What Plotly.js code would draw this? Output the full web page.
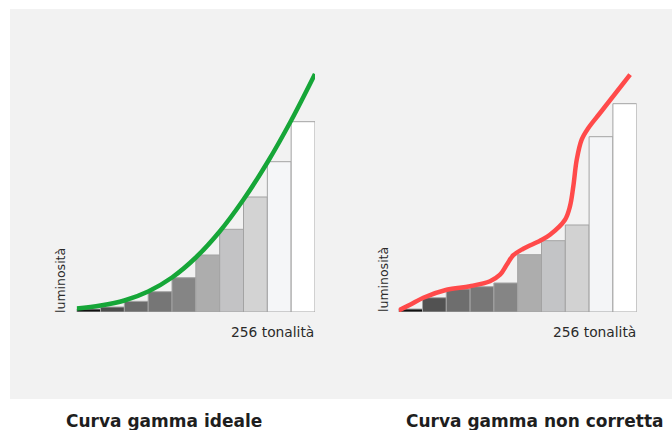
<!DOCTYPE html>
<html>
<head>
<meta charset="utf-8">
<script src="https://cdn.plot.ly/plotly-3.0.1.min.js"></script>
<style>html,body{margin:0;padding:0;background:#fff;}#chart{width:672px;height:430px;}</style>
</head>
<body>
<div id="chart"></div>
<script>
// tonal bins (centre of each of 10 bins over 256 tones)
const binCenters = [12.8, 38.4, 64, 89.6, 115.2, 140.8, 166.4, 192, 217.6, 243.2];
const binWidth = 25.6;
const binColorsIdeal = ['#111111','#4d4d4d','#6b6b6b','#767676','#858585','#adadad','#c3c3c5','#d3d3d3','#f5f6f8','#ffffff'];
const binColorsBad   = ['#111111','#525252','#6e6e6e','#777777','#858585','#adadad','#c3c4c6','#d2d2d2','#f4f5f7','#ffffff'];

// luminosity of each bin
const lumIdeal = [3, 5, 10.7, 20.3, 34.3, 57, 82.7, 115, 150.3, 190.3];
const lumBad   = [3, 14.3, 23, 25.3, 29, 57.3, 71.3, 87, 175.3, 208.3];

// ideal gamma curve
const curveIdealX = [0, 25.6, 51.2, 76.8, 102.4, 128, 153.6, 179.2, 204.8, 230.4, 256];
const curveIdealY = [3.5, 6.5, 11.5, 20.5, 34.5, 54.5, 80.5, 112.5, 149.5, 191.5, 238];

// uncorrected gamma curve
const curveBadX = [0, 12.2, 26.5, 51.6, 76.7, 98.2, 109, 116.2, 123.3, 134, 152, 162.7, 178.9, 184.2, 187.8, 191.5, 196.8, 204, 216.6, 248.9];
const curveBadY = [1.6, 7.3, 14.3, 22.3, 25.8, 30.8, 37.3, 47.3, 56.8, 63.3, 71.3, 77.3, 92.3, 105.6, 125.6, 152.3, 172.3, 184, 199, 237.3];

const yLabel = 'luminosità';
const xLabel = '256 tonalità';
const titleIdeal = 'Curva gamma ideale';
const titleBad = 'Curva gamma non corretta';

const FONT = '"DejaVu Sans", sans-serif';

const traces = [
  {type:'bar', x:binCenters, y:lumIdeal, width:binWidth, xaxis:'x', yaxis:'y',
   marker:{color:binColorsIdeal, line:{color:'#a3a3a3', width:1}}, hoverinfo:'skip'},
  {type:'scatter', mode:'lines', x:curveIdealX, y:curveIdealY, xaxis:'x', yaxis:'y',
   line:{color:'#16a638', width:4.5, shape:'spline', smoothing:1}, hoverinfo:'skip'},
  {type:'bar', x:binCenters, y:lumBad, width:binWidth, xaxis:'x2', yaxis:'y2',
   marker:{color:binColorsBad, line:{color:'#a3a3a3', width:1}}, hoverinfo:'skip'},
  {type:'scatter', mode:'lines', x:curveBadX, y:curveBadY, xaxis:'x2', yaxis:'y2',
   line:{color:'#ff4a4a', width:4.5, shape:'spline', smoothing:1}, hoverinfo:'skip'}
];

const yDom = [(430-312)/430, (430-62)/430];
const axHidden = {visible:false, showgrid:false, zeroline:false, fixedrange:true};

const layout = {
  width:672, height:430,
  margin:{l:0, r:0, t:0, b:0},
  paper_bgcolor:'#ffffff', plot_bgcolor:'rgba(0,0,0,0)',
  showlegend:false, bargap:0,
  font:{family:FONT, color:'#222'},
  xaxis: Object.assign({domain:[76.7/672, 315/672], range:[0,256], anchor:'y'}, axHidden),
  yaxis: Object.assign({domain:yDom, range:[0,250], anchor:'x'}, axHidden),
  xaxis2: Object.assign({domain:[398.7/672, 636.7/672], range:[0,256], anchor:'y2'}, axHidden),
  yaxis2: Object.assign({domain:yDom, range:[0,250], anchor:'x2'}, axHidden),
  shapes:[
    {type:'rect', xref:'paper', yref:'paper', x0:10/672, x1:1, y0:(430-399)/430, y1:(430-9)/430,
     fillcolor:'#f2f2f2', line:{width:0}, layer:'below'}
  ],
  annotations:[
    {text:yLabel, xref:'paper', yref:'paper', x:60.5/672, y:(430-280.5)/430, textangle:-90,
     showarrow:false, font:{size:12.5, color:'#2a2a2a', family:FONT}, xanchor:'center', yanchor:'middle'},
    {text:yLabel, xref:'paper', yref:'paper', x:383.5/672, y:(430-279.5)/430, textangle:-90,
     showarrow:false, font:{size:12.5, color:'#2a2a2a', family:FONT}, xanchor:'center', yanchor:'middle'},
    {text:xLabel, xref:'paper', yref:'paper', x:316/672, y:(430-331.5)/430,
     showarrow:false, font:{size:13.8, color:'#2a2a2a', family:FONT}, xanchor:'right', yanchor:'middle'},
    {text:xLabel, xref:'paper', yref:'paper', x:637.5/672, y:(430-331.5)/430,
     showarrow:false, font:{size:13.8, color:'#2a2a2a', family:FONT}, xanchor:'right', yanchor:'middle'},
    {text:'<b>'+titleIdeal+'</b>', xref:'paper', yref:'paper', x:164/672, y:(430-420.5)/430,
     showarrow:false, font:{size:17, color:'#1e1e1e', family:FONT}, xanchor:'center', yanchor:'middle'},
    {text:'<b>'+titleBad+'</b>', xref:'paper', yref:'paper', x:534/672, y:(430-420.5)/430,
     showarrow:false, font:{size:17, color:'#1e1e1e', family:FONT}, xanchor:'center', yanchor:'middle'}
  ]
};

Plotly.newPlot('chart', traces, layout, {displayModeBar:false, staticPlot:true});
</script>
</body>
</html>
